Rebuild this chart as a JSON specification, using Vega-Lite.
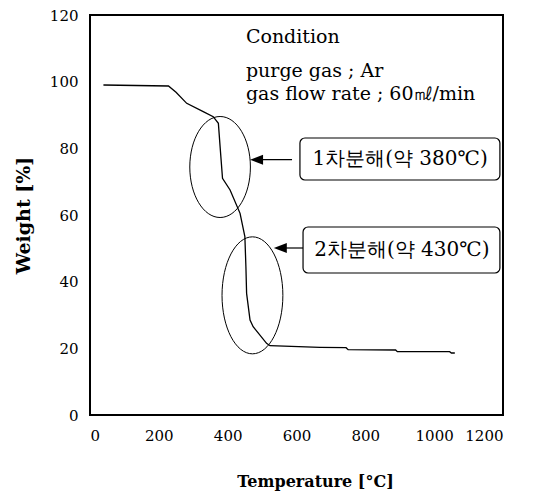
{
  "$schema": "https://vega.github.io/schema/vega-lite/v6.json",
  "width": 413,
  "height": 400,
  "autosize": {"type": "none"},
  "padding": {"left": 90, "top": 15, "right": 31, "bottom": 76},
  "background": "white",
  "config": {
    "view": {"stroke": "black", "strokeWidth": 2},
    "axis": {
      "domain": false,
      "ticks": false,
      "grid": false,
      "labelFont": "DejaVu Serif",
      "labelFontSize": 15,
      "labelColor": "black",
      "titleFont": "DejaVu Serif",
      "titleFontSize": 16,
      "titleFontWeight": "bold",
      "titleColor": "black"
    }
  },
  "datasets": {
    "curve": [
      {"t": 39, "w": 99.0},
      {"t": 228, "w": 98.7},
      {"t": 250, "w": 96.8},
      {"t": 281, "w": 93.5},
      {"t": 329, "w": 91.0},
      {"t": 358, "w": 89.5},
      {"t": 373, "w": 87.5},
      {"t": 378, "w": 80.5},
      {"t": 385, "w": 71.0},
      {"t": 407, "w": 67.5},
      {"t": 436, "w": 60.5},
      {"t": 450, "w": 53.5},
      {"t": 453, "w": 44.5},
      {"t": 455, "w": 36.5},
      {"t": 465, "w": 28.5},
      {"t": 474, "w": 26.5},
      {"t": 513, "w": 21.5},
      {"t": 523, "w": 20.8},
      {"t": 668, "w": 20.3},
      {"t": 744, "w": 20.2},
      {"t": 750, "w": 19.6},
      {"t": 888, "w": 19.5},
      {"t": 893, "w": 19.0},
      {"t": 1045, "w": 19.0},
      {"t": 1050, "w": 18.6},
      {"t": 1060, "w": 18.6}
    ],
    "ellipse1": [{"t": 378, "w": 74.4}],
    "ellipse2": [{"t": 472, "w": 35.9}],
    "arrows": [
      {"t1": 484, "t2": 587, "w": 76.6},
      {"t1": 553, "t2": 619, "w": 50.1}
    ],
    "boxes": [
      {"t1": 610, "t2": 1191, "w1": 83.1, "w2": 70.5, "label": "1차분해(약 380℃)", "tc": 901, "wc": 76.8},
      {"t1": 619, "t2": 1191, "w1": 56.4, "w2": 42.6, "label": "2차분해(약 430℃)", "tc": 906, "wc": 49.5}
    ],
    "notes": [
      {"t": 453, "w": 111.7, "text": "Condition"},
      {"t": 453, "w": 101.5, "text": "purge gas ; Ar"},
      {"t": 453, "w": 94.5, "text": "gas flow rate ; 60㎖/min"}
    ]
  },
  "layer": [
    {
      "data": {"name": "curve"},
      "mark": {"type": "line", "color": "black", "strokeWidth": 1.3},
      "encoding": {
        "x": {
          "field": "t", "type": "quantitative",
          "scale": {"domain": [0, 1200], "nice": false},
          "axis": {
            "values": [0, 200, 400, 600, 800, 1000, 1200],
            "format": "d",
            "labelPadding": 13,
            "title": "Temperature [°C]",
            "titleX": 225,
            "titleY": 66,
            "titleAlign": "center",
            "titleBaseline": "middle"
          }
        },
        "y": {
          "field": "w", "type": "quantitative",
          "scale": {"domain": [0, 120], "nice": false},
          "axis": {
            "values": [0, 20, 40, 60, 80, 100, 120],
            "format": "d",
            "labelPadding": 12,
            "title": "Weight [%]",
            "titleFontSize": 19,
            "titleX": -67,
            "titleY": 200,
            "titleAngle": -90,
            "titleAlign": "center",
            "titleBaseline": "middle"
          }
        }
      }
    },
    {
      "data": {"name": "ellipse1"},
      "mark": {"type": "point", "filled": false, "stroke": "black", "strokeWidth": 1, "opacity": 1,
        "shape": "M 0 -1 A 0.6 1 0 1 1 0 1 A 0.6 1 0 1 1 0 -1 Z", "size": 10201},
      "encoding": {
        "x": {"field": "t", "type": "quantitative"},
        "y": {"field": "w", "type": "quantitative"}
      }
    },
    {
      "data": {"name": "ellipse2"},
      "mark": {"type": "point", "filled": false, "stroke": "black", "strokeWidth": 1, "opacity": 1,
        "shape": "M 0 -1 A 0.52 1 0 1 1 0 1 A 0.52 1 0 1 1 0 -1 Z", "size": 13689},
      "encoding": {
        "x": {"field": "t", "type": "quantitative"},
        "y": {"field": "w", "type": "quantitative"}
      }
    },
    {
      "data": {"name": "arrows"},
      "mark": {"type": "rule", "color": "black", "strokeWidth": 1.2},
      "encoding": {
        "x": {"field": "t1", "type": "quantitative"},
        "x2": {"field": "t2"},
        "y": {"field": "w", "type": "quantitative"}
      }
    },
    {
      "data": {"name": "arrows"},
      "mark": {"type": "point", "filled": true, "color": "black", "opacity": 1,
        "shape": "M -1 0 L 1 -0.77 L 1 0.77 Z", "size": 169},
      "encoding": {
        "x": {"field": "t1", "type": "quantitative"},
        "y": {"field": "w", "type": "quantitative"}
      }
    },
    {
      "data": {"name": "boxes"},
      "mark": {"type": "rect", "fill": "white", "stroke": "black", "strokeWidth": 1.2, "cornerRadius": 5},
      "encoding": {
        "x": {"field": "t1", "type": "quantitative"},
        "x2": {"field": "t2"},
        "y": {"field": "w1", "type": "quantitative"},
        "y2": {"field": "w2"}
      }
    },
    {
      "data": {"name": "boxes"},
      "mark": {"type": "text", "font": "DejaVu Serif", "fontSize": 20, "color": "black", "align": "center", "baseline": "middle"},
      "encoding": {
        "x": {"field": "tc", "type": "quantitative"},
        "y": {"field": "wc", "type": "quantitative"},
        "text": {"field": "label"}
      }
    },
    {
      "data": {"name": "notes"},
      "mark": {"type": "text", "font": "DejaVu Serif", "fontSize": 19, "color": "black", "align": "left", "baseline": "alphabetic"},
      "encoding": {
        "x": {"field": "t", "type": "quantitative"},
        "y": {"field": "w", "type": "quantitative"},
        "text": {"field": "text"}
      }
    }
  ]
}
